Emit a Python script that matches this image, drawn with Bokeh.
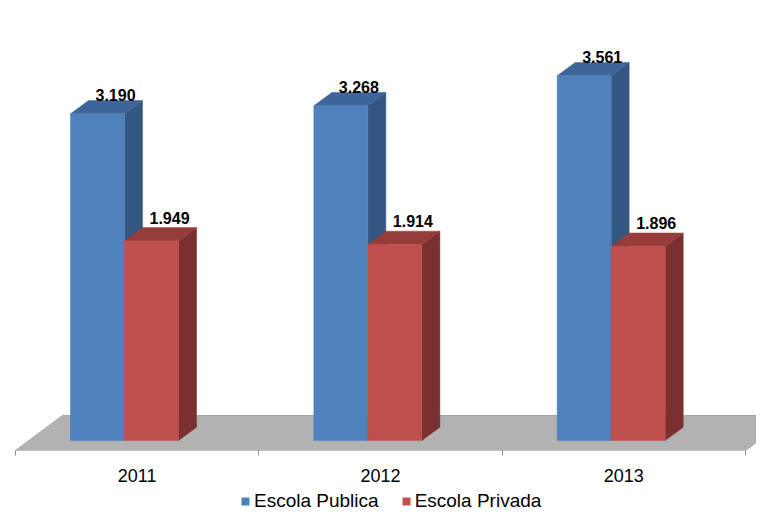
from bokeh.plotting import figure
from bokeh.models import ColumnDataSource, Range1d, FixedTicker, Legend, LegendItem
from bokeh.layouts import column
from bokeh.core.properties import value
from bokeh.embed import file_html
from bokeh.resources import INLINE

# ---- data ----
categories = ["2011", "2012", "2013"]
publica = [3190, 3268, 3561]
privada = [1949, 1914, 1896]
series_names = ["Escola Publica", "Escola Privada"]

# ---- layout / style constants ----
FONT = "Liberation Sans"
BAR_OFF = 0.226      # offset of first bar from category start (category units)
BAR_W = 0.222        # bar width (category units)
DX = 0.074           # 3D depth, x (category units)
DY = 130.0           # 3D depth, y (value units)
FLOOR_DX = 0.193
FLOOR_FRONT = -97.66
FLOOR_BACK = 244.0

BLUE = ("#4F81BD", "#3E6598", "#345781")   # front, top, side
RED = ("#C0504D", "#963C3A", "#7A302E")


def fmt(v):
    return f"{v:,}".replace(",", ".")


def faces(vals, start):
    left = [i + start for i in range(len(vals))]
    right = [l + BAR_W for l in left]
    top_xs, top_ys, side_xs, side_ys = [], [], [], []
    for l, r, v in zip(left, right, vals):
        top_xs.append([l, l + DX, r + DX, r])
        top_ys.append([v, v + DY, v + DY, v])
        side_xs.append([r, r + DX, r + DX, r])
        side_ys.append([0, DY, v + DY, v])
    front = ColumnDataSource(dict(left=left, right=right, bottom=[0] * len(vals), top=vals))
    top = ColumnDataSource(dict(xs=top_xs, ys=top_ys))
    side = ColumnDataSource(dict(xs=side_xs, ys=side_ys))
    lab = ColumnDataSource(dict(x=[(l + r) / 2 + DX for l, r in zip(left, right)],
                                y=[v + DY for v in vals],
                                t=[fmt(v) for v in vals]))
    return front, top, side, lab


p = figure(width=756, height=488, output_backend="svg", toolbar_location=None,
           x_range=Range1d(-0.06164, 3.0452), y_range=Range1d(-97.66, 4296.9),
           y_axis_location=None, min_border_left=0, min_border_right=0,
           min_border_top=0, min_border_bottom=38)
p.outline_line_color = None
p.grid.visible = False
p.background_fill_color = "white"
p.border_fill_color = "white"

n = len(categories)
# floor
p.patch([0, n, n + FLOOR_DX, FLOOR_DX], [FLOOR_FRONT, FLOOR_FRONT, FLOOR_BACK, FLOOR_BACK],
        fill_color="#B2B2B2", line_color="#A6A6A6", line_width=1)

for vals, start, cols, yoff in [(publica, BAR_OFF, BLUE, -6), (privada, BAR_OFF + BAR_W, RED, -10)]:
    front, top, side, lab = faces(vals, start)
    p.patches("xs", "ys", source=side, fill_color=cols[2], line_color=cols[2], line_width=0.5)
    p.patches("xs", "ys", source=top, fill_color=cols[1], line_color=cols[1], line_width=0.5)
    p.quad(left="left", right="right", bottom="bottom", top="top", source=front,
           fill_color=cols[0], line_color=cols[0], line_width=0.5)
    p.text(x="x", y="y", text="t", source=lab, text_align="center", text_baseline="alphabetic",
           y_offset=yoff, text_font=value(FONT), text_font_size="16px", text_font_style="bold",
           text_color="black")

# x axis
ax = p.xaxis[0]
ax.ticker = FixedTicker(ticks=[i + 0.5 for i in range(n)], minor_ticks=list(range(n + 1)))
ax.major_label_overrides = {i + 0.5: c for i, c in enumerate(categories)}
ax.major_tick_line_color = None
ax.major_tick_out = 0
ax.major_tick_in = 0
ax.minor_tick_in = 0
ax.minor_tick_out = 5
ax.minor_tick_line_color = "#8C8C8C"
ax.axis_line_color = "#BFBFBF"
ax.bounds = (0, n)
ax.major_label_standoff = 13
ax.major_label_text_font = FONT
ax.major_label_text_font_size = "18px"
ax.major_label_text_color = "black"

# legend strip
lg = figure(width=756, height=24, output_backend="svg", toolbar_location=None,
            x_range=Range1d(0, 1), y_range=Range1d(0, 1),
            x_axis_location=None, y_axis_location=None,
            min_border_left=0, min_border_right=0, min_border_top=0, min_border_bottom=0)
lg.outline_line_color = None
lg.grid.visible = False
stub = dict(left=[0], right=[0], bottom=[0], top=[0])   # zero-area key stubs
r_pub = lg.quad(left="left", right="right", bottom="bottom", top="top",
                source=ColumnDataSource(stub), fill_color=BLUE[0], line_color=None)
r_pri = lg.quad(left="left", right="right", bottom="bottom", top="top",
                source=ColumnDataSource(stub), fill_color=RED[0], line_color=None)
legend = Legend(items=[LegendItem(label=series_names[0], renderers=[r_pub]),
                       LegendItem(label=series_names[1], renderers=[r_pri])],
                orientation="horizontal", location=(240, 0), padding=0, margin=0,
                spacing=22, glyph_width=10, glyph_height=10, label_standoff=4,
                label_text_font=FONT, label_text_font_size="19px", label_text_color="black",
                border_line_alpha=0, background_fill_alpha=0)
lg.add_layout(legend)

layout = column(p, lg, spacing=0)
open("out.html", "w").write(file_html(layout, INLINE))
